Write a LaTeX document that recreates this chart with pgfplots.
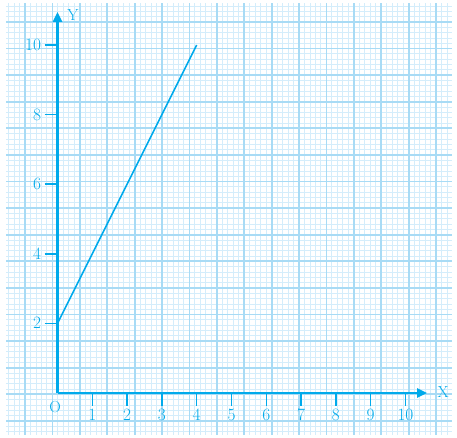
\documentclass[border=0pt]{standalone}
\usepackage{pgfplots}
\pgfplotsset{compat=1.18}
\usetikzlibrary{arrows.meta}
\definecolor{cy}{RGB}{0,170,235}
\definecolor{gminor}{RGB}{212,237,251}
\definecolor{gmed}{RGB}{168,219,245}
\begin{document}
\begin{tikzpicture}
\useasboundingbox (0pt,0pt) rectangle (457pt,438pt);
% graph paper background
\foreach \i in {-3,...,77}{
  \pgfmathsetmacro{\xx}{25+5.48*\i}
  \draw[gminor, line width=0.9pt] (\xx pt,3pt) -- (\xx pt,435pt);
}
\foreach \j in {-3,...,77}{
  \pgfmathsetmacro{\yy}{438-(22+5.32*\j)}
  \draw[gminor, line width=0.9pt] (6pt,\yy pt) -- (452pt,\yy pt);
}
\foreach \i in {0,5,...,75}{
  \pgfmathsetmacro{\xx}{25+5.48*\i}
  \draw[gmed, line width=1.8pt] (\xx pt,3pt) -- (\xx pt,435pt);
}
\foreach \j in {0,5,...,75}{
  \pgfmathsetmacro{\yy}{438-(22+5.32*\j)}
  \draw[gmed, line width=1.8pt] (6pt,\yy pt) -- (452pt,\yy pt);
}
\begin{axis}[
  at={(57.5pt,45pt)}, anchor=south west,
  x=34.8pt, y=34.8pt,
  xmin=0, xmax=10.62, ymin=0, ymax=10.95,
  axis lines=middle,
  every inner x axis line/.append style={cy, line width=2.2pt, -{Triangle[length=10pt,width=9pt]}},
  every inner y axis line/.append style={cy, line width=2.2pt, -{Triangle[length=10pt,width=9pt]}},
  xtick={1,...,10}, ytick={2,4,6,8,10},
  tick align=outside, major tick length=13pt,
  tick style={cy, line width=1.5pt},
  ticklabel style={font=\fontsize{16}{19}\selectfont, text=cy},
  clip=false,
]
\addplot[cy, line width=1.6pt] coordinates {(0,2) (4,10)};
\node[text=cy, font=\fontsize{16}{19}\selectfont] at (axis cs:0.445,10.86) {Y};
\node[text=cy, font=\fontsize{16}{19}\selectfont] at (axis cs:11.08,0.03) {X};
\node[text=cy, font=\fontsize{16}{19}\selectfont] at (axis cs:-0.07,-0.4) {O};
\end{axis}
\end{tikzpicture}
\end{document}
